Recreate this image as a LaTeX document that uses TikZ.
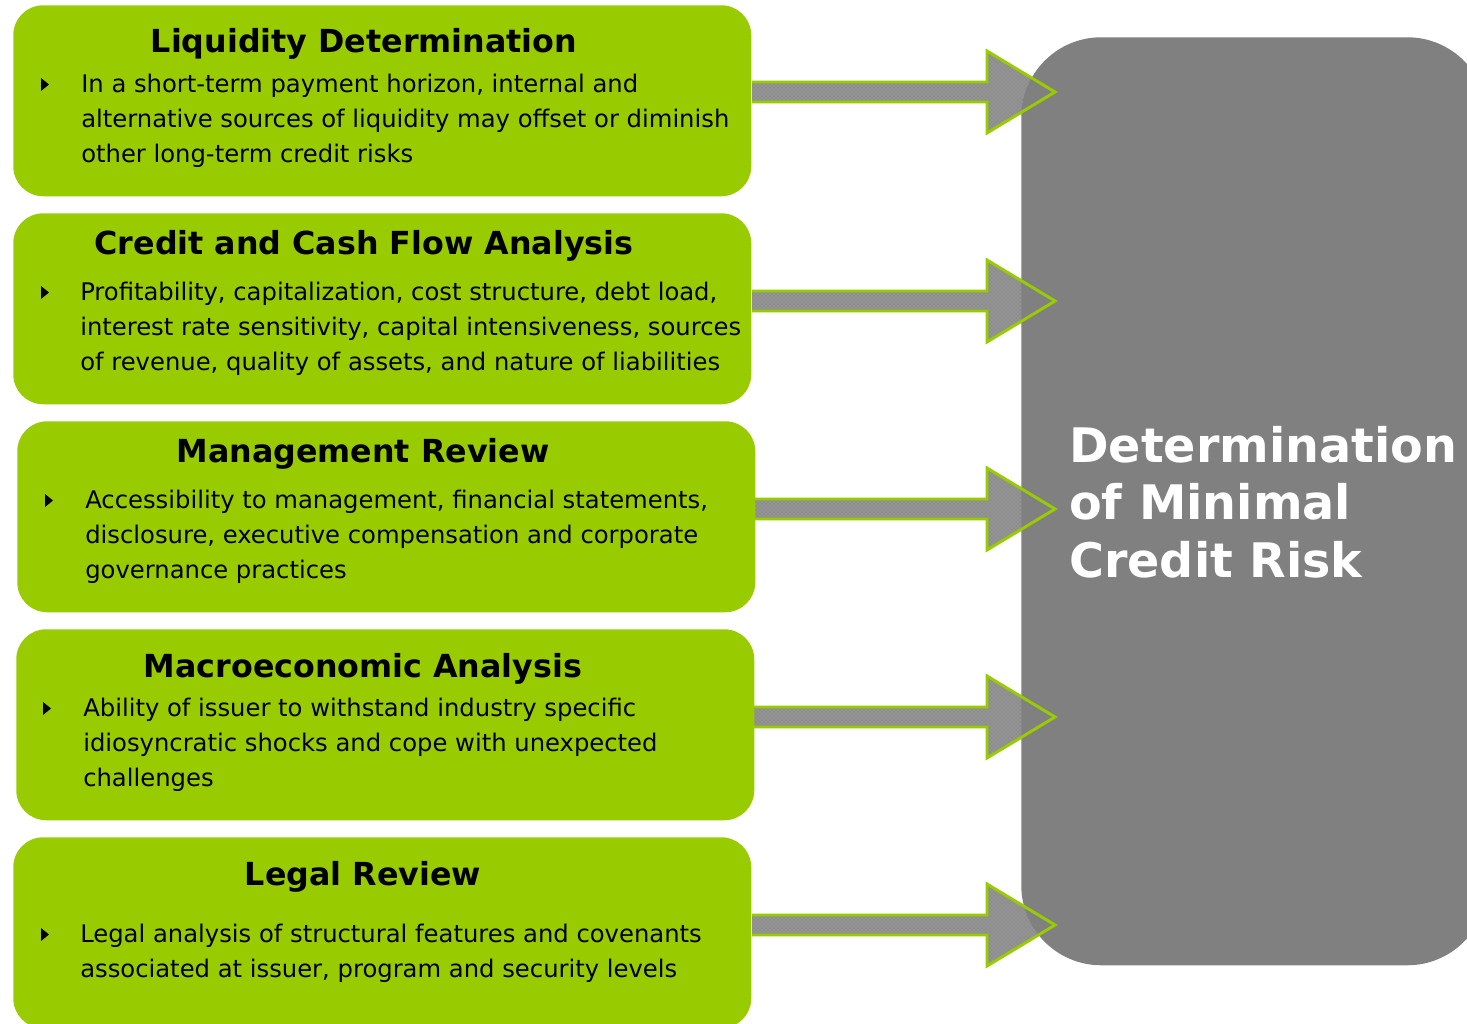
\documentclass[tikz,border=0pt]{standalone}
\usepackage{fontspec}
\setmainfont{DejaVu Sans}
\usetikzlibrary{patterns,calc}
\pgfdeclarelayer{bg}
\pgfdeclarelayer{fg}
\pgfsetlayers{bg,main,fg}
\definecolor{lime}{HTML}{99CC00}
\definecolor{boxgray}{HTML}{808080}
\definecolor{arrowgray}{HTML}{8C8C8C}
\definecolor{dotgray}{HTML}{B4B4B4}
\tikzset{
  x=0.75pt, y=-0.75pt,
  gbox/.style={fill=lime, draw=none, rounded corners=22.5pt, inner sep=0pt, anchor=north west,
    minimum width={738*0.75pt}, minimum height={191*0.75pt}},
  riskbox/.style={fill=boxgray, draw=none, rounded corners=60pt, inner sep=0pt, anchor=north west,
    minimum width={466*0.75pt}, minimum height={928*0.75pt}},
  ttl/.style={font=\fontsize{23.8pt}{28pt}\selectfont\bfseries, inner sep=0pt, anchor=base},
  body/.style={font=\fontsize{18.2pt}{26.25pt}\selectfont, align=left, inner sep=0pt, anchor=base west},
  risktext/.style={font=\fontsize{35.7pt}{43pt}\selectfont\bfseries, text=white, align=left, inner sep=0pt, anchor=base west},
  arrowline/.style={draw=lime, line width=2.2pt, line join=miter},
  bul/.pic={\fill[black] (-4,-6.5) -- (4,0) -- (-4,6.5) -- cycle;},
  bigarrow/.pic={
    \begin{pgfonlayer}{bg}
      \fill[arrowgray] (0,-10) -- (235,-10) -- (235,-41) -- (303,0) -- (235,41) -- (235,10) -- (0,10) -- cycle;
      \fill[pattern=crosshatch dots, pattern color=dotgray] (0,-10) -- (235,-10) -- (235,-41) -- (303,0) -- (235,41) -- (235,10) -- (0,10) -- cycle;
    \end{pgfonlayer}
    \begin{pgfonlayer}{fg}
      \draw[arrowline] (0,-10) -- (235,-10) -- (235,-41) -- (303,0) -- (235,41) -- (235,10) -- (0,10);
    \end{pgfonlayer}
  }
}
\begin{document}
\begin{tikzpicture}
\useasboundingbox (0,0) rectangle (1467,1024);

% green boxes
\node[gbox] (b1) at (13,5) {};
\node[gbox] (b2) at (13,213) {};
\node[gbox] (b3) at (17,421) {};
\node[gbox] (b4) at (16,629) {};
\node[gbox] (b5) at (13,837) {};

% gray box
\node[riskbox] (risk) at (1021,37) {};
% anchor base = baseline of last line
\node[risktext] (risktxt) at (1069,577) {Determination\\of Minimal\\Credit Risk};

% arrows
\coordinate (a1) at (752,92);
\coordinate (a2) at (752,301);
\coordinate (a3) at (752,509);
\coordinate (a4) at (752,717);
\coordinate (a5) at (752,925);
\foreach \i in {1,...,5} { \pic at (a\i) {bigarrow}; }

% titles
\node[ttl] (t1) at (364,53) {Liquidity Determination};
\node[ttl] (t2) at (364,254) {Credit and Cash Flow Analysis};
\node[ttl] (t3) at (363,462) {Management Review};
\node[ttl] (t4) at (363,677) {Macroeconomic Analysis};
\node[ttl] (t5) at (363,885) {Legal Review};

% bullets
\pic at (45,84.5) {bul};
\pic at (45,292.5) {bul};
\pic at (49,500.5) {bul};
\pic at (47,708.5) {bul};
\pic at (45,934.5) {bul};

% body text (anchor base = baseline of last line)
\node[body] (x1) at (81,162) {In a short-term payment horizon, internal and\\alternative sources of liquidity may offset or diminish\\other long-term credit risks};
\node[body] (x2) at (80,370) {Profitability, capitalization, cost structure, debt load,\\interest rate sensitivity, capital intensiveness, sources\\of revenue, quality of assets, and nature of liabilities};
\node[body] (x3) at (85,578) {Accessibility to management, financial statements,\\disclosure, executive compensation and corporate\\governance practices};
\node[body] (x4) at (83,786) {Ability of issuer to withstand industry specific\\idiosyncratic shocks and cope with unexpected\\challenges};
\node[body] (x5) at (80,977) {Legal analysis of structural features and covenants\\associated at issuer, program and security levels};
\end{tikzpicture}
\end{document}
